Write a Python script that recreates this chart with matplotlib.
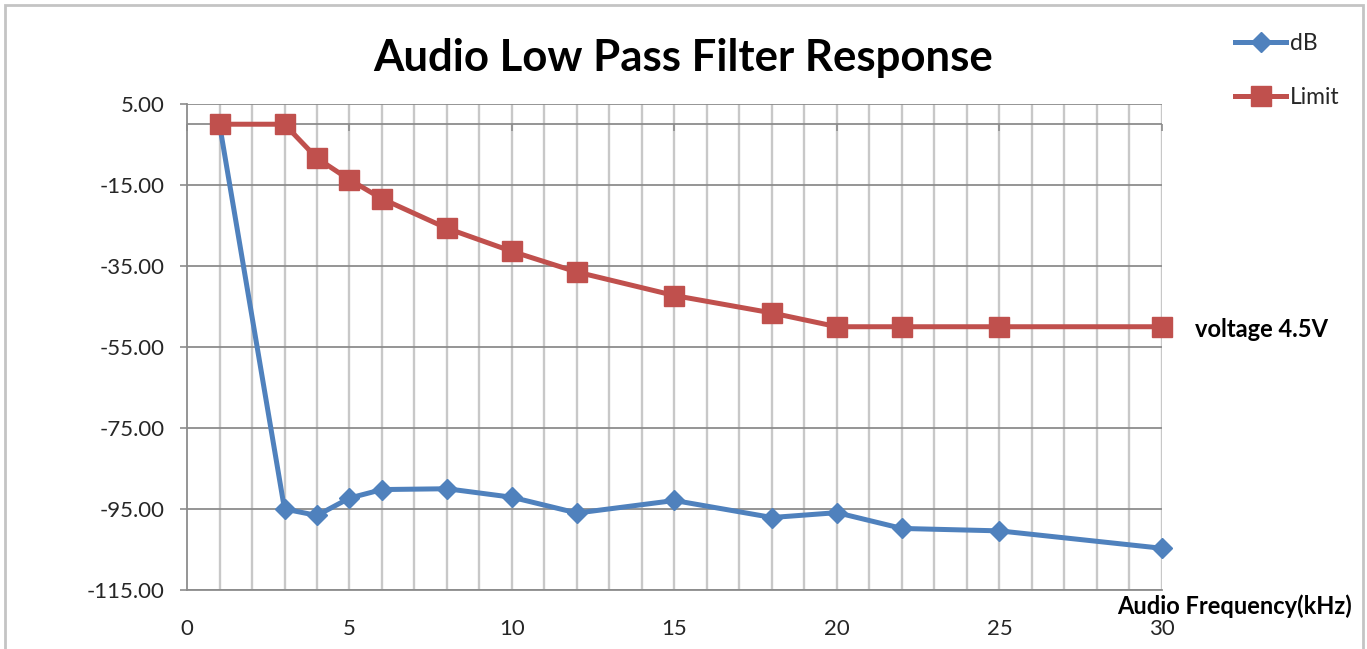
import matplotlib.pyplot as plt
from matplotlib.patches import Rectangle

# data
freq = [1, 3, 4, 5, 6, 8, 10, 12, 15, 18, 20, 22, 25, 30]
db = [0, -95, -96.6, -92.3, -90.2, -90, -92.1, -96, -92.9, -97.1, -95.9, -99.8, -100.4, -104.7]
limit = [0, 0, -8.4, -13.7, -18.4, -25.7, -31.4, -36.5, -42.3, -46.6, -50, -50, -50, -50]
y_ticks = [5, -15, -35, -55, -75, -95, -115]
x_ticks = [0, 5, 10, 15, 20, 25, 30]

plt.rcParams['font.family'] = ['Lato', 'DejaVu Sans']

fig = plt.figure(figsize=(13.67, 6.49), dpi=100)
ax = fig.add_axes([0.1368, 0.0909, 0.7132, 0.7489])

# outer chart frame
fig.patches.append(Rectangle((0.004, -0.05), 0.993, 1.043, transform=fig.transFigure,
                             fill=False, edgecolor='#c4c4c4', linewidth=2))

ax.set_xlim(0, 30)
ax.set_ylim(-115, 5)

# vertical grid every 1 kHz, horizontal at the y ticks
for xv in range(1, 31):
    ax.axvline(xv, color='#c8c8c8', linewidth=1.7, zorder=0)
for yv in y_ticks:
    ax.axhline(yv, color='#8c8c8c', linewidth=1.3, zorder=0)

# horizontal axis crosses at 0
ax.axhline(0, color='#8c8c8c', linewidth=1.3, zorder=1)
sec = ax.secondary_xaxis(115 / 120)
sec.set_xticks(x_ticks)
sec.set_xticklabels([])
for sp in sec.spines.values():
    sp.set_visible(False)
sec.tick_params(axis='x', which='both', direction='out', length=5, color='#8c8c8c',
                width=1.2, bottom=True, top=False)

ax.plot(freq, db, color='#4F81BD', linewidth=3.6, marker='D', markersize=10,
        label='dB', zorder=3, clip_on=False)
ax.plot(freq, limit, color='#C0504D', linewidth=3.6, marker='s', markersize=15,
        markeredgecolor='#C0504D', label='Limit', zorder=4, clip_on=False)

ax.set_xticks(x_ticks)
ax.set_yticks(y_ticks)
ax.set_yticklabels([f'{v:.2f}' for v in y_ticks])
ax.tick_params(axis='x', length=0, pad=21, labelsize=16, labelcolor='#262626')
ax.tick_params(axis='y', length=5, color='#8c8c8c', width=1.2, pad=11,
               labelsize=16, labelcolor='#262626')

for side in ['top', 'right']:
    ax.spines[side].set_visible(False)
ax.spines['left'].set_color('#8c8c8c')
ax.spines['left'].set_linewidth(1.3)
ax.spines['bottom'].set_color('#8c8c8c')
ax.spines['bottom'].set_linewidth(1.3)

fig.text(0.4995, 0.91, 'Audio Low Pass Filter Response', ha='center', va='center',
         fontsize=31.5, fontweight='bold')
fig.text(0.989, 0.066, 'Audio Frequency(kHz)', ha='right', va='center',
         fontsize=17, fontweight='bold')
fig.text(0.874, 0.493, 'voltage 4.5V', ha='left', va='center',
         fontsize=17, fontweight='bold')

fig.legend(loc='upper left', bbox_to_anchor=(0.897, 0.964), frameon=False,
           fontsize=16.5, handlelength=2.2, labelspacing=1.45, handletextpad=0.2,
           borderaxespad=0, labelcolor='#262626')

plt.savefig('out.png', dpi=100)
